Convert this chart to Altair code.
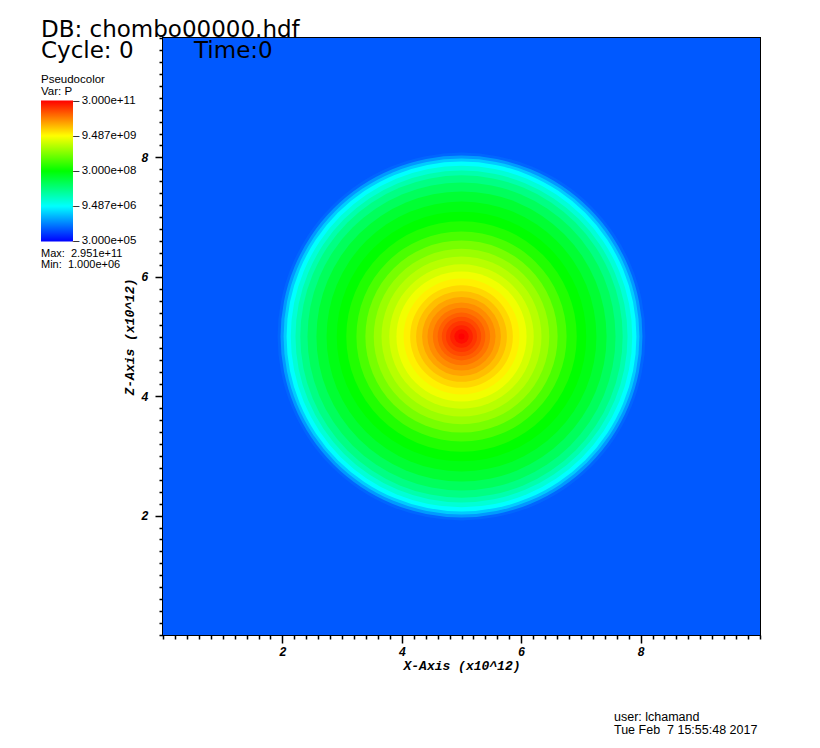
import math
import altair as alt
import pandas as pd

# ---- data ----
# radial profile of pressure P (outer radius of each ring, in x10^12 units)
ring_radius = [0.05, 0.12, 0.19, 0.26, 0.33, 0.40, 0.48, 0.57, 0.66, 0.76, 0.86, 0.97, 1.09,
               1.21, 1.34, 1.47, 1.61, 1.76, 1.93, 2.09, 2.26, 2.43, 2.58, 2.70, 2.78, 2.86,
               2.93, 2.98, 3.03, 3.08]
ring_pressure = [2.95e11, 2.5e11, 1.9e11, 1.45e11, 1.1e11, 8.3e10, 6.2e10, 4.5e10, 3.3e10,
                 2.3e10, 1.6e10, 1.15e10, 7.9e9, 5.3e9, 3.6e9, 2.4e9, 1.5e9, 8.2e8, 4.6e8,
                 3.0e8, 2.3e8, 1.5e8, 8.6e7, 5.0e7, 2.9e7, 1.65e7, 9.5e6, 4.75e6, 2.4e6,
                 1.2e6]
center_x = [5.0]
center_z = [5.0]
background_pressure = [1.0e6]
extent = [0.0, 10.0]

color_domain = [3.0e5, 9.487e6, 3.0e8, 9.487e9, 3.0e11]
legend_values = [3.0001e5, 9.487e6, 3.0e8, 9.487e9, 2.9999e11]
palette = ["#0000ff", "#00ffff", "#00ff00", "#ffff00", "#ff0000"]
major_ticks = [2, 4, 6, 8]
tick_values = [round(i * 0.2, 1) for i in range(51)]

NB = "\u00a0"
title_line1 = ["DB: chombo00000.hdf"]
title_cycle = ["Cycle: 0"]
title_time = ["Time:0"]
minmax_lines = ["Max:" + NB + NB + "2.951e+11", "Min:" + NB + NB + "1.000e+06"]
footer_lines = ["user: lchamand", "Tue Feb" + NB + NB + "7 15:55:48 2017"]

W = 597
H = 597

rings = pd.DataFrame({
    "cx": center_x * len(ring_radius),
    "cz": center_z * len(ring_radius),
    "r": ring_radius,
    "P": ring_pressure,
}).sort_values("r", ascending=False)

bg = pd.DataFrame({"x0": [extent[0]], "x1": [extent[1]], "z0": [extent[0]],
                   "z1": [extent[1]], "P": background_pressure})

majors = "[" + ",".join(str(m) for m in major_ticks) + "]"
is_major = f"indexof({majors}, datum.value) >= 0"

axis_common = dict(
    values=tick_values,
    labelExpr=f"{is_major} ? format(datum.value, 'd') : ''",
    tickSize={"condition": {"test": is_major, "value": 8}, "value": 4},
    labelOverlap=False,
    labelFlush=False,
    labelFont="Liberation Mono",
    labelFontStyle="italic",
    labelFontWeight="bold",
    labelFontSize=12,
    titleFont="Liberation Mono",
    titleFontStyle="italic",
    titleFontWeight="bold",
    titleFontSize=13,
    titleColor="black",
    labelColor="black",
    tickColor="black",
    tickWidth=1.5,
    domain=False,
    grid=False,
)
x_axis = alt.Axis(title="X-Axis (x10^12)", labelPadding=3, titlePadding=2, **axis_common)
y_axis = alt.Axis(title="Z-Axis (x10^12)", labelPadding=7, titlePadding=4, **axis_common)

xs = alt.Scale(domain=extent, nice=False, zero=False)
zs = alt.Scale(domain=extent, nice=False, zero=False)
color_scale = alt.Scale(type="log", domain=color_domain, range=palette, interpolate="rgb")

legend = alt.Legend(
    title=["Pseudocolor", "Var: P"],
    orient="none",
    legendX=-122,
    legendY=36,
    direction="vertical",
    gradientLength=141,
    gradientThickness=32,
    gradientStrokeWidth=0,
    values=legend_values,
    labelExpr="'\u2013\u2009' + replace(format(datum.value, '.3e'), regexp('e\\\\+(\\\\d)$'), 'e+0$1')",
    labelFont="Liberation Sans",
    labelFontSize=11.5,
    labelColor="black",
    labelOffset=0,
    labelBaseline="middle",
    labelOverlap=False,
    titleFont="Liberation Sans",
    titleFontSize=11.5,
    titleFontWeight="normal",
    titleColor="black",
    titlePadding=3,
    titleLineHeight=12,
    padding=0,
)

color = alt.Color("P:Q", scale=color_scale, legend=legend)

bg_layer = alt.Chart(bg).mark_rect().encode(
    x=alt.X("x0:Q", scale=xs, axis=x_axis),
    x2="x1",
    y=alt.Y("z0:Q", scale=zs, axis=y_axis),
    y2="z1",
    color=color,
)

ring_layer = alt.Chart(rings).mark_arc(theta=0, theta2=2 * math.pi).encode(
    x=alt.X("cx:Q", scale=xs, axis=x_axis),
    y=alt.Y("cz:Q", scale=zs, axis=y_axis),
    radius=alt.Radius("r:Q", stack=False,
                      scale=alt.Scale(type="linear", domain=extent, range=[0, W], zero=True)),
    color=color,
)


def text_layer(lines, x, y0, size, dy=0, font="DejaVu Sans"):
    layers = []
    for i, line in enumerate(lines):
        layers.append(
            alt.Chart(pd.DataFrame({"t": [line]})).mark_text(
                align="left", baseline="alphabetic", font=font, fontSize=size, color="black"
            ).encode(text="t:N", x=alt.value(x), y=alt.value(y0 + i * dy))
        )
    return layers


texts = []
texts += text_layer(title_line1, -122, -1, 23)
texts += text_layer(title_cycle, -122, 20, 23)
texts += text_layer(title_time, 31, 20, 23)
texts += text_layer(minmax_lines, -122, 219, 11, dy=10.5, font="Liberation Sans")
texts += text_layer(footer_lines, 451, 683, 12.5, dy=13, font="Liberation Sans")

chart = alt.layer(bg_layer, ring_layer, *texts).properties(
    width=W,
    height=H,
    padding={"left": 155, "top": 30, "right": 50, "bottom": 105},
    autosize=alt.AutoSizeParams(type="none"),
    background="white",
).configure_view(stroke="black", strokeWidth=2)

chart.save("out.html", embed_options={"renderer": "svg", "actions": False})
